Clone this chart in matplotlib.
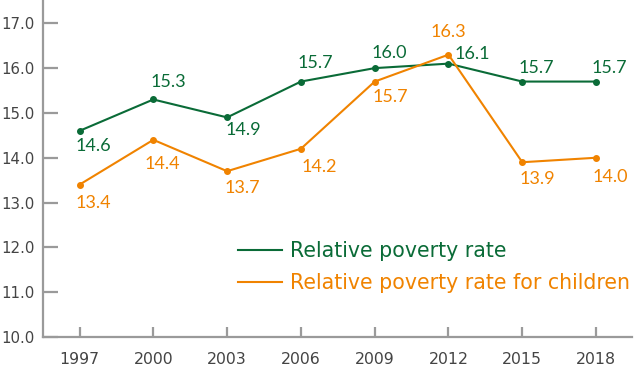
import matplotlib
matplotlib.use("Agg")
import matplotlib.pyplot as plt

years = ["1997", "2000", "2003", "2006", "2009", "2012", "2015", "2018"]
overall = [14.6, 15.3, 14.9, 15.7, 16.0, 16.1, 15.7, 15.7]
children = [13.4, 14.4, 13.7, 14.2, 15.7, 16.3, 13.9, 14.0]
yticks = [10.0, 11.0, 12.0, 13.0, 14.0, 15.0, 16.0, 17.0]
series_names = ["Relative poverty rate", "Relative poverty rate for children"]

GREEN = "#0a6b37"
ORANGE = "#f08300"
GRAY_TXT = "#444444"
GRAY_AX = "#9a9a9a"

# label offsets in pixels (dx, dy; dy up)
off_overall = [(14, -15), (15, 17), (16, -13), (14, 19), (15, 15), (24, 10), (14, 14), (13, 14)]
off_children = [(14, -18), (9, -24), (15, -17), (18, -18), (16, -15), (0, 23), (15, -17), (14, -19)]

fig = plt.figure(figsize=(6.34, 3.66), dpi=100)
ax = fig.add_axes([43 / 634, 29 / 366, (632 - 43) / 634, (366 - 29) / 366])

x = list(range(len(years)))
ax.plot(x, overall, color=GREEN, lw=1.5, marker="o", ms=4, label=series_names[0], zorder=3)
ax.plot(x, children, color=ORANGE, lw=1.5, marker="o", ms=4, label=series_names[1], zorder=3)

lab_font = "Lato"
for i, v in enumerate(overall):
    ax.annotate(f"{v:.1f}", (i, v), xytext=off_overall[i], textcoords="offset pixels",
                ha="center", va="center", color=GREEN, fontsize=13, family=lab_font)
for i, v in enumerate(children):
    ax.annotate(f"{v:.1f}", (i, v), xytext=off_children[i], textcoords="offset pixels",
                ha="center", va="center", color=ORANGE, fontsize=13, family=lab_font)

ax.set_xlim(-0.495, 7.487)
ax.set_ylim(10, 17.52)
ax.set_xticks(x)
ax.set_xticklabels(years)
ax.set_yticks(yticks)
ax.set_yticklabels([f"{t:.1f}" for t in yticks])

for s in ["top", "right"]:
    ax.spines[s].set_visible(False)
for s in ["left", "bottom"]:
    ax.spines[s].set_color(GRAY_AX)
    ax.spines[s].set_linewidth(1.6)

ax.tick_params(axis="y", direction="in", length=11, width=1.6, color=GRAY_AX,
               labelsize=10.8, labelcolor=GRAY_TXT, pad=6.3)
ax.tick_params(axis="x", direction="in", length=7.5, width=1.6, color=GRAY_AX,
               labelsize=11.3, labelcolor=GRAY_TXT, pad=11)
for t in ax.get_xticklabels() + ax.get_yticklabels():
    t.set_family("DejaVu Sans")

leg = ax.legend(loc="upper left", bbox_to_anchor=(238 / 634, (366 - 241) / 366),
                bbox_transform=fig.transFigure, frameon=False, fontsize=14.8,
                handlelength=2.14, handletextpad=0.38, labelspacing=0.58,
                labelcolor="linecolor", borderpad=0, borderaxespad=0)
for h in leg.legend_handles:
    h.set_marker("")
for t in leg.get_texts():
    t.set_family("DejaVu Sans")

fig.savefig("out.png", dpi=100)
